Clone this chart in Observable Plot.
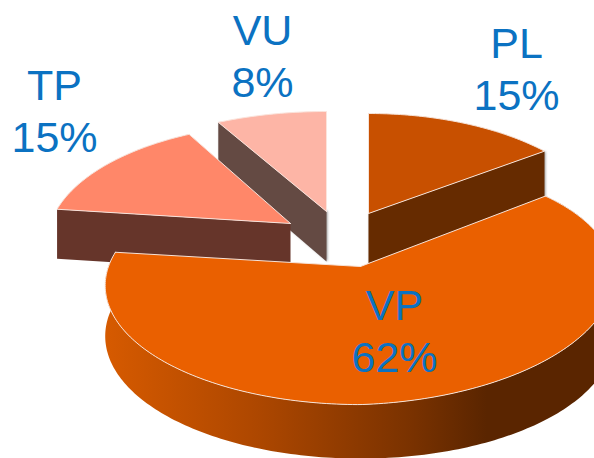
<!DOCTYPE html>
<html>
<head>
<meta charset="utf-8">
<script src="https://cdn.jsdelivr.net/npm/d3@7"></script>
<script src="https://cdn.jsdelivr.net/npm/@observablehq/plot@0.6"></script>
<style>
html,body{margin:0;padding:0;background:#fff}
svg{display:block}
.shadow{filter:drop-shadow(1.5px 0 1px rgba(90,90,90,.6))}
</style>
</head>
<body>
<div id="chart"></div>
<script>
// Data, clockwise from the top of the pie
const categories = ["PL", "VP", "TP", "VU"];
const shares = [15, 62, 15, 8];
const topColors = ["#c85000", "#ea6000", "#ff8769", "#fdb5a6"];
const sideColors = ["#662b00", "url(#rim)", "#66352a", "#644a43"];

// Layout of the exploded 3-D pie
const apexX = [368, 360, 290, 326];
const apexY = [213, 266, 223, 211];
const radiusLeft = [238, 252, 240, 256];
const radiusRight = [238, 250, 240, 256];
const shearRight = [0, 10, 0, 0];
const radiusY = 116, perspective = 0.16, depth = 50, depthPerspective = 0.08;
const labelX = [516, 394, 54, 262];
const labelY = [67, 329, 109, 54];

const total = d3.sum(shares);
let acc = 0;
const slices = categories.map((name, i) => {
  const a0 = acc / total * 2 * Math.PI;
  acc += shares[i];
  const a1 = acc / total * 2 * Math.PI;
  return {name, i, a0, a1};
});

function project(s, angle, r, lower) {
  const X = Math.sin(angle) * r, Y = Math.cos(angle) * r;
  const w = 1 / (1 + perspective * Y);
  const a = X < 0 ? radiusLeft[s.i] : radiusRight[s.i];
  const drop = lower ? depth * (1 - depthPerspective * Y) : 0;
  const shear = X > 0 && !lower ? shearRight[s.i] * X : 0;
  return {x: apexX[s.i] + a * X * w, y: apexY[s.i] - radiusY * Y * w - shear + drop};
}
function arc(s, lower) {
  const n = Math.ceil((s.a1 - s.a0) * 180 / Math.PI);
  return d3.range(n + 1).map(k => project(s, s.a0 + (s.a1 - s.a0) * k / n, 1, lower));
}
function topFace(s) {
  const c = project(s, 0, 0, false);
  return [c, ...arc(s, false), c];
}
function radialFace(s, angle) {
  const a = project(s, angle, 0, false), b = project(s, angle, 1, false);
  const c = project(s, angle, 1, true), d = project(s, angle, 0, true);
  return [a, b, c, d, a];
}
function rimFace(s) {
  const up = arc(s, false), low = arc(s, true).reverse();
  return [...up, ...low, up[0]];
}
const face = (pts, fill, extra = {}) =>
  Plot.line(pts, {x: "x", y: "y", fill, stroke: "none", curve: "linear", ...extra});
const edge = (pts, stroke = "#f6e3d8") =>
  Plot.line(pts, {x: "x", y: "y", stroke, strokeWidth: 1, fill: "none", curve: "linear"});

const [PL, VP, TP, VU] = slices;

const rimGradient = () => {
  const defs = d3.create("svg:defs");
  const g = defs.append("linearGradient").attr("id", "rim");
  [[0, "#d65a00"], [0.3, "#ad4700"], [0.6, "#7a3200"], [0.75, "#5a2500"], [1, "#5a2500"]]
    .forEach(([o, c]) => g.append("stop").attr("offset", o).attr("stop-color", c));
  return defs.node();
};

const chart = Plot.plot({
  width: 594, height: 458,
  margin: 0,
  x: {domain: [0, 594], range: [0, 594], axis: null},
  y: {domain: [0, 458], range: [0, 458], axis: null},
  marks: [
    rimGradient,
    // VU
    face(radialFace(VU, VU.a0), sideColors[3], {className: "shadow"}),
    face(topFace(VU), topColors[3]),
    edge(topFace(VU), "#fbe4dc"),
    // TP
    face(radialFace(TP, TP.a0), sideColors[2]),
    face(topFace(TP), topColors[2]),
    edge(topFace(TP), "#f7e2da"),
    // PL
    face(radialFace(PL, PL.a1), sideColors[0], {className: "shadow"}),
    face(topFace(PL), topColors[0]),
    edge(topFace(PL)),
    // VP
    face(rimFace(VP), sideColors[1]),
    face(topFace(VP), topColors[1]),
    edge(arc(VP, false)),
    edge([project(VP, 0, 0, false), project(VP, VP.a0, 1, false)]),
    edge([project(VP, 0, 0, false), project(VP, VP.a1, 1, false)]),
    // Labels
    Plot.text(slices, {
      x: d => labelX[d.i],
      y: d => labelY[d.i],
      text: d => `${d.name}\n${shares[d.i]}%`,
      fontFamily: "Liberation Sans, Arial, sans-serif",
      fontSize: 43,
      lineHeight: 1.2,
      fill: "#0b72c2",
      textAnchor: "middle",
      lineAnchor: "middle"
    })
  ]
});
document.getElementById("chart").append(chart);
</script>
</body>
</html>
